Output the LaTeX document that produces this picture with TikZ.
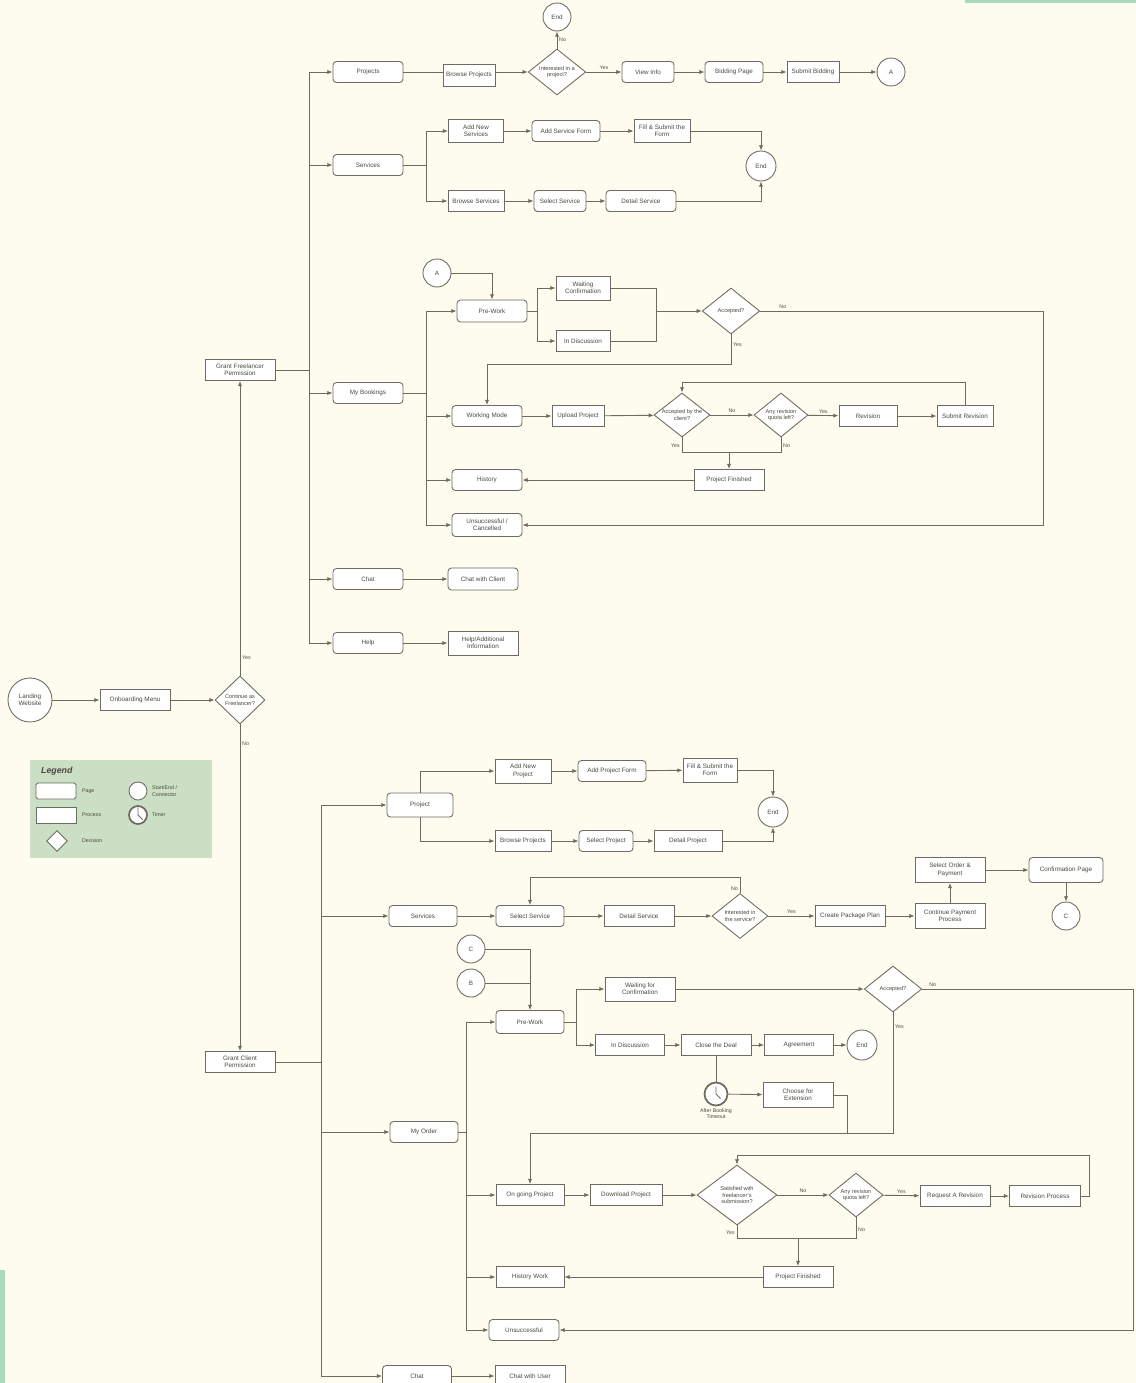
\documentclass[tikz,border=0pt]{standalone}
\usepackage{fontspec}
\setmainfont{Liberation Sans}
\usepackage{xcolor}
\usetikzlibrary{shapes.geometric}
\usetikzlibrary{arrows.meta}

\definecolor{bgcol}{HTML}{FDFCEE}
\definecolor{linecol}{HTML}{6E6C60}
\definecolor{textcol}{HTML}{4A4A40}
\definecolor{legcol}{HTML}{CADFC4}
\definecolor{stripcol}{HTML}{A8DABE}

\begin{document}
\begin{tikzpicture}[x=0.02cm,y=-0.02cm,
  font=\fontsize{3.6}{4.2}\selectfont,
  every node/.style={text=textcol},
  box/.style={draw=linecol, fill=white, line width=0.5pt, minimum width=1.4cm, minimum height=0.42cm, inner sep=1pt, align=center},
  pagebox/.style={box, rounded corners=2pt},
  procbox/.style={box},
  decbox/.style={diamond, draw=linecol, fill=white, line width=0.5pt, aspect=1.25, inner sep=0pt, align=center,
    minimum width=1.15cm, minimum height=0.92cm, font=\fontsize{3.2}{3.8}\selectfont},
  circ/.style={circle, draw=linecol, fill=white, line width=0.5pt, minimum size=0.56cm, inner sep=0pt, align=center},
  timer/.style={circle, draw=linecol, fill=white, line width=1pt, minimum size=0.46cm, inner sep=0pt,
    path picture={\draw[linecol, line width=0.5pt] (path picture bounding box.center) -- ++(0,0.15cm)
      (path picture bounding box.center) -- ++(0.09cm,-0.09cm);}},
  arr/.style={draw=linecol, line width=0.5pt, -{Latex[length=3pt,width=2.4pt]}},
  wire/.style={draw=linecol, line width=0.5pt},
  yn/.style={font=\fontsize{3}{3.6}\selectfont, inner sep=1pt}
]
  % Page and background
  \useasboundingbox (0,0) rectangle (1136,1383);
  \fill[bgcol] (0,0) rectangle (1136,1383);
  \fill[stripcol] (965,0) rectangle (1136,3);
  \fill[stripcol] (0,1270) rectangle (5,1383);

  % Entry
  \node[circ, minimum size=0.88cm] (start) at (30,700) {Landing\\Website};
  \node[procbox] (menu) at (135,700) {Onboarding Menu};
  \node[decbox, minimum width=1.0cm, minimum height=0.96cm] (role) at (240,700) {Continue as\\Freelancer?};
  \node[procbox] (fperm) at (240,370) {Grant Freelancer\\Permission};
  \node[procbox] (cperm) at (240,1062) {Grant Client\\Permission};
  \draw[arr] (start) -- (menu);
  \draw[arr] (menu) -- (role);
  \draw[arr] (role) -- node[yn, right, pos=0.06] {Yes} (fperm);
  \draw[arr] (role) -- node[yn, right, pos=0.06] {No} (cperm);

  % Legend
  \node[fill=legcol, minimum width=3.64cm, minimum height=1.96cm, anchor=north west] (legend) at (30,760) {};
  \node[font=\fontsize{5}{6}\selectfont\bfseries\itshape, anchor=west] (legtitle) at (35,771) {Legend};
  \node[pagebox, minimum width=0.8cm, minimum height=0.32cm, rounded corners=1pt] (lgpage) at (56,791) {};
  \node[yn, anchor=west] (lgpagetxt) at (80,791) {Page};
  \node[procbox, minimum width=0.8cm, minimum height=0.32cm] (lgproc) at (56,815) {};
  \node[yn, anchor=west] (lgproctxt) at (80,815) {Process};
  \node[decbox, minimum width=0.42cm, minimum height=0.42cm] (lgdec) at (57,841) {};
  \node[yn, anchor=west] (lgdectxt) at (80,841) {Decision};
  \node[circ, minimum size=0.36cm] (lgcirc) at (138,791) {};
  \node[yn, anchor=west, align=left] (lgcirctxt) at (150,791) {Start/End /\\Connector};
  \node[timer, minimum size=0.36cm] (lgtimer) at (138,815) {};
  \node[yn, anchor=west] (lgtimertxt) at (150,815) {Timer};

  % ---------------- Freelancer side ----------------
  \coordinate (ftop) at (309,72);
  \coordinate (fbot) at (309,643);
  \draw[wire] (ftop) -- (fbot);
  \draw[wire] (fperm) -- (fperm -| ftop);
  \node[pagebox] (fproj) at (368,72) {Projects};
  \node[pagebox] (fserv) at (368,165) {Services};
  \node[pagebox] (fbook) at (368,393) {My Bookings};
  \node[pagebox] (fchat) at (368,579) {Chat};
  \node[pagebox] (fhelp) at (368,643) {Help};
  \foreach \n in {fproj,fserv,fbook,fchat,fhelp}
    \draw[arr] (ftop |- \n) -- (\n);

  % Projects
  \node[procbox, minimum width=1.04cm, minimum height=0.44cm] (fbrowse) at (469,75) {Browse Projects};
  \node[decbox] (fint) at (557,72) {Interested in a\\project?};
  \node[circ] (fend) at (557,17) {End};
  \node[pagebox, minimum width=1.04cm] (fview) at (648,72) {View Info};
  \node[pagebox, minimum width=1.16cm] (fbid) at (734,72) {Bidding Page};
  \node[procbox, minimum width=1.04cm] (fsubmit) at (813,72) {Submit Bidding};
  \node[circ] (fA) at (891,72) {A};
  \draw[wire] (fproj) -- (fproj -| fbrowse.west);
  \draw[arr] (fint -| fbrowse.east) -- (fint);
  \draw[arr] (fint) -- node[yn, right] {No} (fend);
  \draw[arr] (fint) -- node[yn, above] {Yes} (fview);
  \draw[arr] (fview) -- (fbid);
  \draw[arr] (fbid) -- (fsubmit);
  \draw[arr] (fsubmit) -- (fA);

  % Services
  \coordinate (sfork) at (426,165);
  \node[procbox, minimum width=1.1cm, minimum height=0.46cm] (fadd) at (476,131) {Add New\\Services};
  \node[pagebox, minimum width=1.36cm] (fform) at (566,131) {Add Service Form};
  \node[procbox, minimum width=1.12cm, minimum height=0.46cm] (ffill) at (662,131) {Fill \& Submit the\\Form};
  \node[circ, minimum size=0.6cm] (send) at (761,166) {End};
  \node[procbox, minimum width=1.12cm] (fbrs) at (476,201) {Browse Services};
  \node[pagebox, minimum width=1.04cm] (fsel) at (560,201) {Select Service};
  \node[pagebox] (fdet) at (641,201) {Detail Service};
  \draw[wire] (fserv) -- (sfork);
  \draw[arr] (sfork) |- (fadd);
  \draw[arr] (sfork) |- (fbrs);
  \draw[arr] (fadd) -- (fform);
  \draw[arr] (fform) -- (ffill);
  \draw[arr] (ffill) -| (send);
  \draw[arr] (fbrs) -- (fsel);
  \draw[arr] (fsel) -- (fdet);
  \draw[arr] (fdet) -| (send);

  % My Bookings
  \coordinate (bfork) at (426,393);
  \draw[wire] (fbook) -- (bfork);
  \node[pagebox, minimum height=0.44cm] (bpre) at (492,311) {Pre-Work};
  \node[pagebox] (bwork) at (487,416) {Working Mode};
  \node[pagebox] (bhist) at (487,480) {History};
  \node[pagebox, minimum height=0.46cm] (bfail) at (487,525) {Unsuccessful /\\Cancelled};
  \draw[wire] (bfork) -- (bfork |- bpre);
  \draw[wire] (bfork) -- (bfork |- bfail);
  \foreach \n in {bpre,bwork,bhist,bfail}
    \draw[arr] (bfork |- \n) -- (\n);
  \node[circ] (bA) at (437,273) {A};
  \draw[arr] (bA) -| (bpre);

  \coordinate (pfork) at (537,311);
  \coordinate (pjoin) at (656,311);
  \node[procbox, minimum width=1.08cm, minimum height=0.48cm] (bwait) at (583,288) {Waiting\\Confirmation};
  \node[procbox, minimum width=1.08cm] (bdisc) at (583,341) {In Discussion};
  \node[decbox] (bacc) at (731,311) {Accepted?};
  \draw[wire] (bpre) -- (pfork);
  \draw[arr] (pfork) |- (bwait);
  \draw[arr] (pfork) |- (bdisc);
  \draw[wire] (bwait) -| (pjoin);
  \draw[wire] (bdisc) -| (pjoin);
  \draw[arr] (pjoin) -- (bacc);
  \coordinate (byes) at (731,364);
  \coordinate (bno) at (1043,311);
  \draw[arr] (bacc) -- node[yn, right, pos=0.35] {Yes} (byes) -| (bwork);
  \draw[arr] (bacc) -- node[yn, above, pos=0.08] {No} (bno) |- (bfail);

  \node[procbox, minimum width=1.04cm] (bupl) at (578,416) {Upload Project};
  \node[decbox, minimum width=1.12cm, minimum height=0.88cm] (bcli) at (682,415) {Accepted by the\\client?};
  \node[decbox, minimum width=1.08cm, minimum height=0.88cm] (brev) at (781,415) {Any revision\\quota left?};
  \node[procbox, minimum width=1.16cm] (brevision) at (868,416) {Revision};
  \node[procbox, minimum width=1.12cm] (bsubrev) at (965,416) {Submit Revision};
  \node[procbox] (bfin) at (729,480) {Project Finished};
  \draw[arr] (bwork) -- (bupl);
  \draw[arr] (bupl) -- (bcli);
  \draw[arr] (bcli) -- node[yn, above] {No} (brev);
  \draw[arr] (brev) -- node[yn, above] {Yes} (brevision);
  \draw[arr] (brevision) -- (bsubrev);
  \coordinate (bloop) at (965,382);
  \draw[arr] (bsubrev) -- (bloop) -| (bcli);
  \coordinate (bmerge) at (729,452);
  \draw[wire] (bcli) |- node[yn, left, pos=0.3] {Yes} (bmerge);
  \draw[wire] (brev) |- node[yn, right, pos=0.3] {No} (bmerge);
  \draw[arr] (bmerge) -- (bfin);
  \draw[arr] (bfin) -- (bhist);

  % Chat and Help
  \node[pagebox, minimum height=0.44cm] (fchw) at (483,579) {Chat with Client};
  \node[procbox, minimum height=0.48cm] (fhinf) at (483,643) {Help/Additional\\Information};
  \draw[arr] (fchat) -- (fchw);
  \draw[arr] (fhelp) -- (fhinf);

  % ---------------- Client side ----------------
  \coordinate (ctop) at (321,805);
  \coordinate (cbot) at (321,1376);
  \draw[wire] (ctop) -- (cbot);
  \draw[wire] (cperm) -- (cperm -| ctop);
  \node[pagebox, minimum width=1.32cm, minimum height=0.48cm] (cproj) at (420,805) {Project};
  \node[pagebox, minimum width=1.36cm] (cserv) at (423,916) {Services};
  \node[pagebox, minimum width=1.36cm] (corder) at (424,1132) {My Order};
  \node[pagebox, minimum width=1.38cm] (cchat) at (417,1376) {Chat};
  \foreach \n in {cproj,cserv,corder,cchat}
    \draw[arr] (ctop |- \n) -- (\n);

  % Project
  \node[procbox, minimum width=1.12cm, minimum height=0.48cm] (cadd) at (523,771) {Add New\\Project};
  \node[pagebox, minimum width=1.36cm] (cform) at (612,771) {Add Project Form};
  \node[procbox, minimum width=1.08cm, minimum height=0.48cm] (cfill) at (710,770) {Fill \& Submit the\\Form};
  \node[circ, minimum size=0.6cm] (cend) at (773,812) {End};
  \node[procbox, minimum width=1.12cm] (cbrs) at (523,841) {Browse Projects};
  \node[pagebox, minimum width=1.08cm] (csel) at (606,841) {Select Project};
  \node[procbox, minimum width=1.36cm] (cdet) at (688,841) {Detail Project};
  \draw[arr] (cproj) |- (cadd);
  \draw[arr] (cproj) |- (cbrs);
  \draw[arr] (cadd) -- (cform);
  \draw[arr] (cform) -- (cfill);
  \draw[arr] (cfill) -| (cend);
  \draw[arr] (cbrs) -- (csel);
  \draw[arr] (csel) -- (cdet);
  \draw[arr] (cdet) -| (cend);

  % Services
  \node[pagebox, minimum width=1.36cm] (csel2) at (530,916) {Select Service};
  \node[procbox] (cdet2) at (639,916) {Detail Service};
  \node[decbox, minimum width=1.12cm, minimum height=0.9cm] (cint) at (740,916) {Interested in\\the service?};
  \node[procbox] (cpack) at (850,916) {Create Package Plan};
  \node[procbox, minimum height=0.5cm] (cpay) at (950,916) {Continue Payment\\Process};
  \node[procbox, minimum height=0.5cm] (corderpay) at (950,870) {Select Order \&\\Payment};
  \node[pagebox, minimum width=1.48cm, minimum height=0.5cm] (cconf) at (1066,870) {Confirmation Page};
  \node[circ] (cC) at (1066,916) {C};
  \coordinate (cloop) at (740,877);
  \draw[arr] (cserv) -- (csel2);
  \draw[arr] (csel2) -- (cdet2);
  \draw[arr] (cdet2) -- (cint);
  \draw[arr] (cint) -- node[yn, left, pos=0.3] {No} (cloop) -| (csel2);
  \draw[arr] (cint) -- node[yn, above] {Yes} (cpack);
  \draw[arr] (cpack) -- (cpay);
  \draw[arr] (cpay) -- (corderpay);
  \draw[arr] (corderpay) -- (cconf);
  \draw[arr] (cconf) -- (cC);

  % My Order
  \coordinate (ofork) at (466,1132);
  \coordinate (otop) at (466,1022);
  \coordinate (obot) at (466,1330);
  \draw[wire] (corder) -- (ofork);
  \draw[wire] (otop) -- (obot);
  \node[pagebox, minimum width=1.36cm, minimum height=0.46cm] (opre) at (530,1022) {Pre-Work};
  \node[procbox, minimum width=1.36cm] (owork) at (530,1195) {On going Project};
  \node[procbox, minimum width=1.36cm] (ohist) at (530,1277) {History Work};
  \node[pagebox] (ofail) at (524,1330) {Unsuccessful};
  \foreach \n in {opre,owork,ohist,ofail}
    \draw[arr] (otop |- \n) -- (\n);
  \node[circ] (oC) at (471,949) {C};
  \node[circ] (oB) at (471,983) {B};
  \draw[arr] (oC) -| (opre);
  \draw[wire] (oB) -- (oB -| opre);

  \coordinate (pfork2) at (576,1022);
  \node[procbox, minimum height=0.48cm] (owait) at (640,989) {Waiting for\\Confirmation};
  \node[procbox, minimum width=1.38cm] (odisc) at (630,1045) {In Discussion};
  \node[procbox] (oclose) at (716,1045) {Close the Deal};
  \node[procbox, minimum width=1.38cm] (oagree) at (799,1045) {Agreement};
  \node[circ, minimum size=0.6cm] (oend) at (862,1045) {End};
  \node[decbox] (oacc) at (893,989) {Accepted?};
  \draw[wire] (opre) -- (pfork2);
  \draw[arr] (pfork2) |- (owait);
  \draw[arr] (pfork2) |- (odisc);
  \draw[arr] (odisc) -- (oclose);
  \draw[arr] (oclose) -- (oagree);
  \draw[arr] (oagree) -- (oend);
  \draw[arr] (owait) -- (oacc);
  \coordinate (ono) at (1133,989);
  \coordinate (oyes) at (893,1133);
  \draw[arr] (oacc) -- node[yn, above, pos=0.05] {No} (ono) |- (ofail);
  \draw[arr] (oacc) -- node[yn, right, pos=0.12] {Yes} (oyes) -| (owork);

  \node[timer, label={[yn, align=center, text=textcol]below:After Booking\\Timeout}] (otimer) at (716,1094) {};
  \node[procbox, minimum height=0.5cm] (oext) at (798,1095) {Choose for\\Extension};
  \coordinate (oextj) at (847,1133);
  \draw[wire] (oclose) -- (otimer);
  \draw[arr] (otimer) -- (oext);
  \draw[wire] (oext) -| (oextj);

  \node[procbox, minimum width=1.44cm] (odown) at (626,1195) {Download Project};
  \node[decbox, minimum width=1.6cm, minimum height=1.2cm] (osat) at (737,1195) {Satisfied with\\freelancer's\\submission?};
  \node[decbox, minimum width=1.08cm, minimum height=0.88cm] (orev) at (856,1195) {Any revision\\quota left?};
  \node[procbox] (oreq) at (955,1196) {Request A Revision};
  \node[procbox, minimum width=1.42cm] (orevp) at (1045,1196) {Revision Process};
  \node[procbox] (ofin) at (798,1277) {Project Finished};
  \draw[arr] (owork) -- (odown);
  \draw[arr] (odown) -- (osat);
  \draw[arr] (osat) -- node[yn, above] {No} (orev);
  \draw[arr] (orev) -- node[yn, above] {Yes} (oreq);
  \draw[arr] (oreq) -- (orevp);
  \coordinate (oloop) at (1089,1155);
  \draw[arr] (orevp) -| (oloop) -| (osat);
  \coordinate (omerge) at (798,1238);
  \draw[wire] (osat) |- node[yn, left, pos=0.3] {Yes} (omerge);
  \draw[wire] (orev) |- node[yn, right, pos=0.3] {No} (omerge);
  \draw[arr] (omerge) -- (ofin);
  \draw[arr] (ofin) -- (ohist);

  % Chat
  \node[procbox] (cchw) at (530,1376) {Chat with User};
  \draw[arr] (cchat) -- (cchw);
\end{tikzpicture}
\end{document}
